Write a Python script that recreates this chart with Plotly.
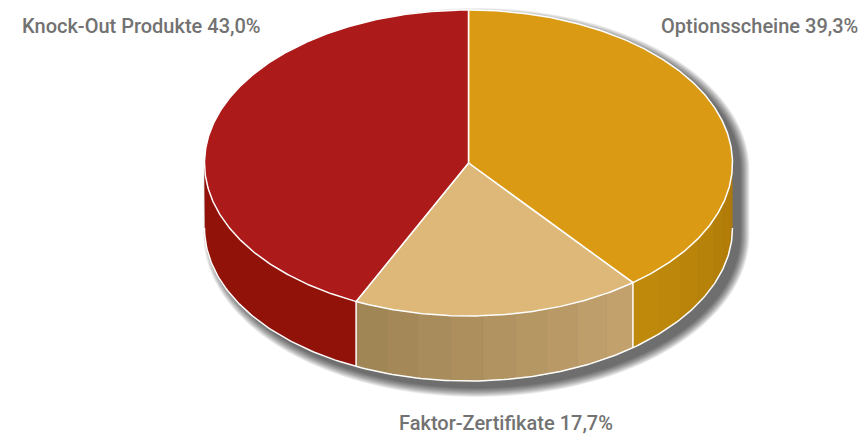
import numpy as np
import plotly.graph_objects as go

# ---- data (clockwise from 12 o'clock) ----
categories = ["Optionsscheine", "Faktor-Zertifikate", "Knock-Out Produkte"]
values = [39.3, 17.7, 43.0]

# ---- style ----
top_colors = ["#DB9A14", "#DDB878", "#AC1A1A"]
side_start = ["#AE7806", "#C4A36E", "#901209"]   # colour at the clockwise start of the visible wall
side_end = ["#C08B0C", "#9E8354", "#901209"]     # colour at the clockwise end
label_pos = [(860, 26, "right"), (397, 423, "left"), (20, 26, "left")]

W, H = 866, 436
cx, cy, rx, ry, depth = 468.5, 163.0, 264.0, 153.0, 65.0


def pt(theta, dy=0.0, rxx=rx, ryy=ry, ox=0.0, oy=0.0):
    t = np.radians(theta)
    return cx + ox + rxx * np.sin(t), cy + oy - ryy * np.cos(t) + dy


def hexrgb(h):
    h = h.lstrip("#")
    return np.array([int(h[i:i + 2], 16) for i in (0, 2, 4)], float)


def mix(a, b, f):
    c = hexrgb(a) * (1 - f) + hexrgb(b) * f
    return "rgb(%d,%d,%d)" % tuple(np.round(c))


fig = go.Figure()

# ---- soft drop shadow ----
for k in range(10, -1, -1):
    th1 = np.linspace(-90, 90, 90)
    th2 = np.linspace(90, 270, 90)
    x1, y1 = pt(th1, 0, rx + k * 0.9, ry + k * 0.9, 8, 7)
    x2, y2 = pt(th2, depth, rx + k * 0.9, ry + k * 0.9, 8, 7)
    fig.add_trace(go.Scatter(x=np.r_[x1, x2], y=np.r_[y1, y2], fill="toself", mode="none",
                             fillcolor="rgba(0,0,0,0.07)", hoverinfo="skip", showlegend=False))

total = sum(values)
bounds = np.r_[0, np.cumsum(values)] / total * 360.0

# ---- side walls (front half only) ----
for i in range(len(values)):
    a0, a1 = bounds[i], bounds[i + 1]
    s0, s1 = max(a0, 90.0), min(a1, 270.0)
    if s1 <= s0:
        continue
    n = 1 if side_start[i] == side_end[i] else max(1, int((s1 - s0) / 7))
    edges = np.linspace(s0, s1, n + 1)
    for j in range(n):
        th = np.linspace(edges[j], edges[j + 1], max(8, int(edges[j + 1] - edges[j]) * 2))
        xt, yt = pt(th)
        xb, yb = pt(th[::-1], depth)
        f = (0.5 * (edges[j] + edges[j + 1]) - s0) / (s1 - s0)
        col = mix(side_start[i], side_end[i], f)
        fig.add_trace(go.Scatter(x=np.r_[xt, xb], y=np.r_[yt, yb], fill="toself", mode="lines",
                                 line=dict(color=col, width=0.6), fillcolor=col,
                                 hoverinfo="skip", showlegend=False))

# white edges of the wall
thb = np.linspace(90, 270, 200)
xb, yb = pt(thb, depth)
fig.add_trace(go.Scatter(x=xb, y=yb, mode="lines", line=dict(color="white", width=1.5),
                         hoverinfo="skip", showlegend=False))
for a in bounds:
    a = a % 360
    if 90 < a < 270:
        xa, ya = pt(a)
        xd, yd = pt(a, depth)
        fig.add_trace(go.Scatter(x=[xa, xd], y=[ya, yd], mode="lines",
                                 line=dict(color="white", width=1.5),
                                 hoverinfo="skip", showlegend=False))

# ---- top faces ----
for i in range(len(values)):
    a0, a1 = bounds[i], bounds[i + 1]
    th = np.linspace(a0, a1, max(4, int(a1 - a0) * 2))
    xs, ys = pt(th)
    fig.add_trace(go.Scatter(x=np.r_[cx, xs, cx], y=np.r_[cy, ys, cy], fill="toself",
                             mode="lines", fillcolor=top_colors[i],
                             line=dict(color="white", width=1.5),
                             hoverinfo="skip", showlegend=False))

# ---- labels ----
for i, cat in enumerate(categories):
    x, y, anc = label_pos[i]
    txt = f"{cat} {values[i]:.1f}%".replace(".", ",")
    fig.add_annotation(x=x, y=y, text=txt, showarrow=False, xanchor=anc, yanchor="middle",
                       font=dict(family="Roboto", size=20, color="#727272", weight=500))

fig.update_layout(width=W, height=H, autosize=False, margin=dict(l=0, r=0, t=0, b=0),
                  paper_bgcolor="white", plot_bgcolor="white", showlegend=False,
                  xaxis=dict(range=[0, W], visible=False, fixedrange=True),
                  yaxis=dict(range=[H, 0], visible=False, fixedrange=True))
fig.write_html("out.html", config={"displayModeBar": False},
               post_script="document.body.style.margin='0';")
